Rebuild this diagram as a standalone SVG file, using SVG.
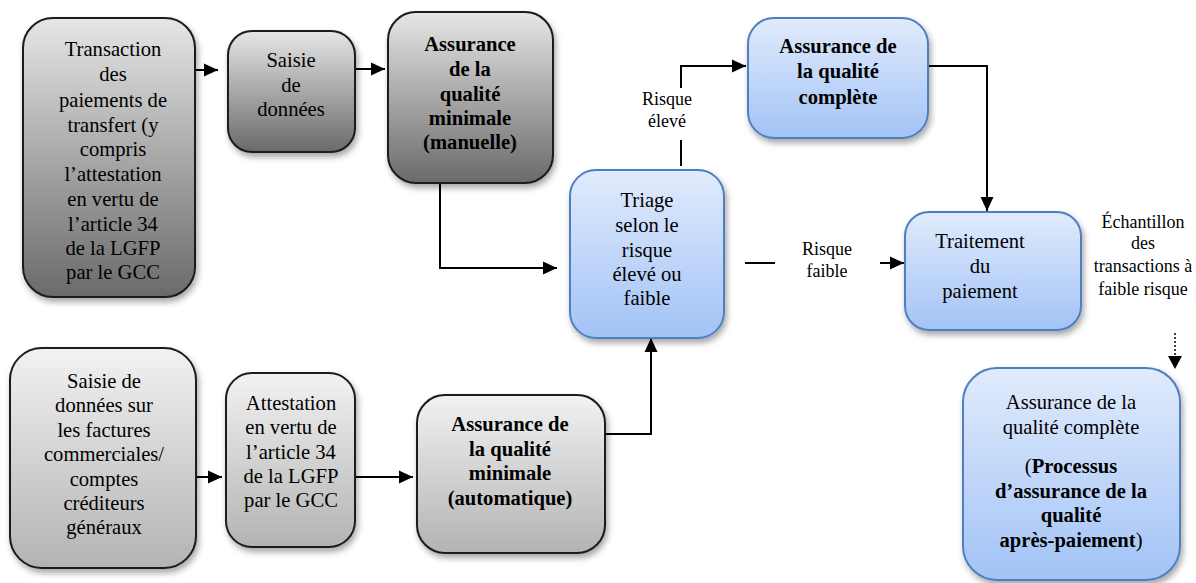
<svg xmlns="http://www.w3.org/2000/svg" width="1196" height="583" viewBox="0 0 1196 583">
<defs>
<linearGradient id="gDark" x1="0" y1="0" x2="0" y2="1"><stop offset="0" stop-color="#e6e6e6"/><stop offset="1" stop-color="#6a6a6a"/></linearGradient>
<linearGradient id="gLight" x1="0" y1="0" x2="0" y2="1"><stop offset="0" stop-color="#f2f2f2"/><stop offset="1" stop-color="#b3b3b3"/></linearGradient>
<linearGradient id="gBlue" x1="0" y1="0" x2="0" y2="1"><stop offset="0" stop-color="#e1ebfc"/><stop offset="1" stop-color="#a2c3f6"/></linearGradient>
<filter id="sh" x="-10%" y="-10%" width="125%" height="125%"><feDropShadow dx="2" dy="4" stdDeviation="3" flood-color="#000" flood-opacity="0.35"/></filter>
<marker id="ah" markerWidth="15" markerHeight="15" refX="14" refY="7.5" orient="auto" markerUnits="userSpaceOnUse"><path d="M0,1 L14,7.5 L0,14 Z" fill="#000"/></marker>
</defs>
<style>
.gray{stroke:#1a1a1a;stroke-width:2;filter:url(#sh)}
.dark{fill:url(#gDark)}
.light{fill:url(#gLight)}
.blue{fill:url(#gBlue);stroke:#4f7fc0;stroke-width:2;filter:url(#sh)}
text{font-family:"Liberation Serif","Times New Roman",serif;font-size:20.6px;fill:#000;text-anchor:middle}
.b{font-weight:bold}
.s{font-size:18px}
.c{fill:none;stroke:#000;stroke-width:2}
</style>
<g id="connectors">
<line class="c" x1="195" y1="70" x2="218" y2="70" marker-end="url(#ah)"/>
<line class="c" x1="355" y1="69" x2="385" y2="69" marker-end="url(#ah)"/>
<polyline class="c" points="440,183 440,268 557,268" marker-end="url(#ah)"/>
<line class="c" x1="681" y1="166" x2="681" y2="140"/>
<polyline class="c" points="681,88 681,66 746,66" marker-end="url(#ah)"/>
<polyline class="c" points="928,66 987,66 987,211" marker-end="url(#ah)"/>
<line class="c" x1="745" y1="263" x2="775" y2="263"/>
<line class="c" x1="880" y1="263" x2="904" y2="263" marker-end="url(#ah)"/>
<line x1="1175" y1="333" x2="1175" y2="357" stroke="#000" stroke-width="1.5" stroke-dasharray="2,2"/>
<path d="M1168,356 L1182,356 L1175,369 Z" fill="#000"/>
<line class="c" x1="196" y1="477" x2="222" y2="477" marker-end="url(#ah)"/>
<line class="c" x1="355" y1="477" x2="413" y2="477" marker-end="url(#ah)"/>
<polyline class="c" points="605,434 651,434 651,338" marker-end="url(#ah)"/>
</g>
<g id="n1"><rect class="gray dark" x="23" y="18" width="172" height="279" rx="30"/>
<text x="113" y="56">Transaction</text><text x="113" y="81">des</text><text x="113" y="107">paiements de</text><text x="113" y="132">transfert (y</text><text x="113" y="156">compris</text><text x="113" y="181">l’attestation</text><text x="113" y="206">en vertu de</text><text x="113" y="231">l’article 34</text><text x="113" y="255">de la LGFP</text><text x="113" y="279">par le GCC</text></g>
<g id="n2"><rect class="gray dark" x="228" y="31" width="127" height="121" rx="24"/>
<text x="291" y="67">Saisie</text><text x="291" y="92">de</text><text x="291" y="116">données</text></g>
<g id="n3"><rect class="gray dark" x="388" y="12" width="165" height="171" rx="28"/>
<text class="b" x="470" y="51">Assurance</text><text class="b" x="470" y="76">de la</text><text class="b" x="470" y="101">qualité</text><text class="b" x="470" y="125">minimale</text><text class="b" x="470" y="149">(manuelle)</text></g>
<g id="n4"><rect class="blue" x="570" y="170" width="154" height="168" rx="26"/>
<text x="647" y="207">Triage</text><text x="647" y="232">selon le</text><text x="647" y="257">risque</text><text x="647" y="281">élevé ou</text><text x="647" y="305">faible</text></g>
<g id="lbl1"><text class="s" x="667" y="105">Risque</text><text class="s" x="667" y="127">élevé</text></g>
<g id="n5"><rect class="blue" x="748" y="18" width="180" height="120" rx="26"/>
<text class="b" x="838" y="53">Assurance de</text><text class="b" x="838" y="78">la qualité</text><text class="b" x="838" y="104">complète</text></g>
<g id="lbl2"><text class="s" x="827" y="255">Risque</text><text class="s" x="827" y="277">faible</text></g>
<g id="n6"><rect class="blue" x="905" y="212" width="176" height="118" rx="24"/>
<text x="980" y="248">Traitement</text><text x="980" y="273">du</text><text x="980" y="298">paiement</text></g>
<g id="lbl3"><text class="s" x="1143" y="228">Échantillon</text><text class="s" x="1143" y="249">des</text><text class="s" x="1143" y="272">transactions à</text><text class="s" x="1143" y="295">faible risque</text></g>
<g id="n7"><rect class="blue" x="963" y="368" width="217" height="212" rx="34"/>
<text x="1071" y="409">Assurance de la</text><text x="1071" y="434">qualité complète</text>
<text x="1071" y="473">(<tspan class="b">Processus</tspan></text><text class="b" x="1071" y="498">d’assurance de la</text><text class="b" x="1071" y="522">qualité</text><text x="1071" y="547"><tspan class="b">après-paiement</tspan>)</text></g>
<g id="n8"><rect class="gray light" x="10" y="348" width="186" height="220" rx="32"/>
<text x="104" y="388">Saisie de</text><text x="104" y="412">données sur</text><text x="104" y="437">les factures</text><text x="104" y="461">commerciales/</text><text x="104" y="486">comptes</text><text x="104" y="510">créditeurs</text><text x="104" y="534">généraux</text></g>
<g id="n9"><rect class="gray light" x="226" y="373" width="129" height="174" rx="26"/>
<text x="291" y="410">Attestation</text><text x="291" y="434">en vertu de</text><text x="291" y="459">l’article 34</text><text x="291" y="483">de la LGFP</text><text x="291" y="507">par le GCC</text></g>
<g id="n10"><rect class="gray light" x="417" y="395" width="188" height="158" rx="28"/>
<text class="b" x="510" y="431">Assurance de</text><text class="b" x="510" y="456">la qualité</text><text class="b" x="510" y="480">minimale</text><text class="b" x="510" y="505">(automatique)</text></g>
</svg>
